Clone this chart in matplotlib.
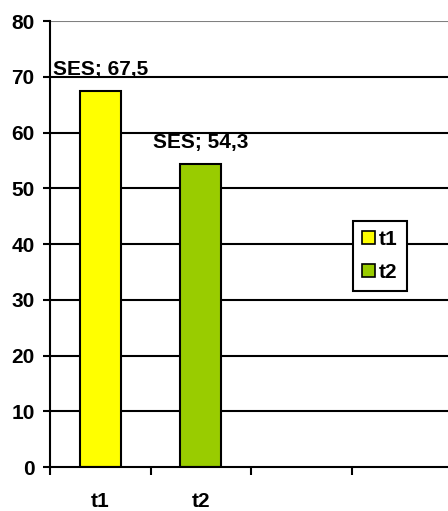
import numpy as np
import matplotlib.pyplot as plt
from matplotlib.patches import Patch

categories = ['t1', 't2']
values = [67.5, 54.3]
colors = ['#FFFF00', '#99CC00']
series_name = 'SES'
n_slots = 4

plt.rcParams['font.family'] = ['Liberation Sans', 'DejaVu Sans']
plt.rcParams['font.weight'] = 'bold'
FS = 15

W, H = 448, 511
fig = plt.figure(figsize=(W / 100, H / 100), dpi=100)
ax = fig.add_axes([50 / W, (H - 467) / H, 398 / W, (467 - 21) / H])

x = np.arange(len(categories))
bars = ax.bar(x, values, width=0.41, color=colors, edgecolor='black', linewidth=1.5, zorder=3)

for xi, v in zip(x, values):
    ax.annotate(f'{series_name}; {v:.1f}'.replace('.', ','), (xi, v), xytext=(0, 8.5),
                textcoords='offset points', ha='center', va='bottom',
                fontsize=FS, fontweight='bold')

ax.set_ylim(0, 80)
ax.set_xlim(-0.5, n_slots - 0.5 - 0.04)
ax.set_yticks(np.arange(0, 81, 10))
for yv in range(10, 80, 10):
    ax.axhline(yv, color='black', linewidth=1.5, zorder=1)
ax.axhline(80, color='#808080', linewidth=1.5, zorder=1)

ax.set_xticks(np.arange(n_slots) - 0.5)
ax.set_xticklabels([])
ax.set_xticks(x, minor=True)
ax.set_xticklabels(categories, minor=True)
ax.tick_params(axis='x', which='minor', length=0, pad=18, labelsize=FS)
ax.tick_params(axis='x', which='major', direction='out', length=5.5, width=1.5)
ax.tick_params(axis='y', direction='out', length=5, width=1.5, labelsize=FS, pad=6)

for side in ['top', 'right']:
    ax.spines[side].set_visible(False)
for side in ['left', 'bottom']:
    ax.spines[side].set_linewidth(1.5)
    ax.spines[side].set_zorder(4)

handles = [Patch(facecolor=c, edgecolor='black', linewidth=1.2) for c in colors]
leg = ax.legend(handles, categories, loc='center', bbox_to_anchor=(380 / W, 1 - 256 / H),
                bbox_transform=fig.transFigure, fancybox=False, framealpha=1,
                edgecolor='black', handlelength=0.6, handleheight=0.6, handletextpad=0.2,
                borderpad=0.45, labelspacing=0.65, prop={'weight': 'bold', 'size': FS})
leg.get_frame().set_linewidth(1.5)
leg.set_zorder(5)

fig.savefig('out.png', dpi=100)
